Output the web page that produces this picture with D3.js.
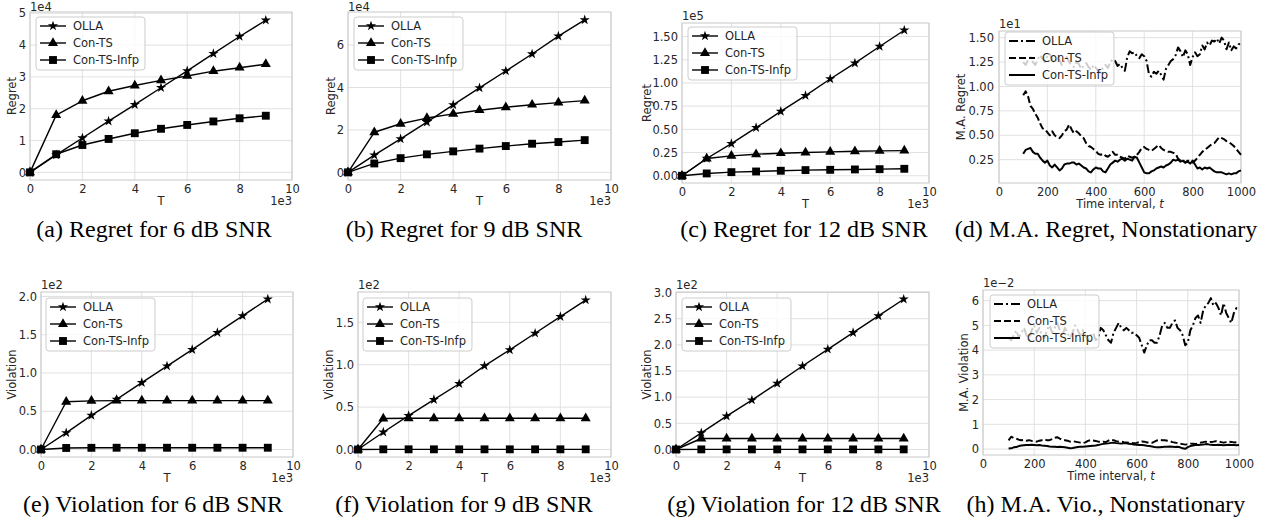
<!DOCTYPE html>
<html>
<head>
<meta charset="utf-8">
<script src="https://cdn.jsdelivr.net/npm/d3@7"></script>
<style>
  body { margin: 0; background: #fff; }
  svg { display: block; }
</style>
</head>
<body>
<div id="chart"></div>
<script>
// ---- data ----
const seriesNames = ["OLLA", "Con-TS", "Con-TS-Infp"];
const T = [0, 1, 2, 3, 4, 5, 6, 7, 8, 9]; // x 1e3

// regret (units shown on axis)
const regret6Olla = [0, 0.55, 1.08, 1.61, 2.13, 2.66, 3.19, 3.73, 4.27, 4.78];
const regret6ConTS = [0, 1.80, 2.25, 2.55, 2.73, 2.89, 3.03, 3.18, 3.29, 3.40];
const regret6Infp = [0, 0.57, 0.86, 1.05, 1.23, 1.37, 1.49, 1.60, 1.70, 1.78];

const regret9Olla = [0, 0.81, 1.58, 2.37, 3.18, 3.98, 4.78, 5.58, 6.42, 7.19];
const regret9ConTS = [0, 1.89, 2.29, 2.56, 2.76, 2.93, 3.07, 3.19, 3.29, 3.38];
const regret9Infp = [0, 0.42, 0.67, 0.85, 0.99, 1.12, 1.24, 1.35, 1.43, 1.52];

const regret12Olla = [0, 0.186, 0.346, 0.518, 0.693, 0.864, 1.043, 1.214, 1.393, 1.568];
const regret12ConTS = [0, 0.186, 0.214, 0.232, 0.243, 0.250, 0.257, 0.264, 0.268, 0.271];
const regret12Infp = [0, 0.025, 0.039, 0.046, 0.054, 0.061, 0.064, 0.068, 0.071, 0.075];

// violation
const viol6Olla = [0, 0.218, 0.445, 0.655, 0.873, 1.090, 1.305, 1.528, 1.747, 1.965];
const viol6ConTS = [0, 0.624, 0.636, 0.638, 0.638, 0.638, 0.638, 0.638, 0.638, 0.638];
const viol6Infp = [0, 0.020, 0.022, 0.023, 0.023, 0.023, 0.023, 0.023, 0.023, 0.023];

const viol9Olla = [0, 0.204, 0.400, 0.588, 0.776, 0.987, 1.175, 1.371, 1.567, 1.763];
const viol9ConTS = [0, 0.366, 0.368, 0.368, 0.368, 0.368, 0.368, 0.368, 0.368, 0.368];
const viol9Infp = [0, 0.002, 0.002, 0.002, 0.002, 0.002, 0.002, 0.002, 0.002, 0.002];

const viol12Olla = [0, 0.319, 0.638, 0.945, 1.264, 1.595, 1.915, 2.234, 2.553, 2.872];
const viol12ConTS = [0, 0.210, 0.210, 0.210, 0.210, 0.210, 0.210, 0.210, 0.210, 0.210];
const viol12Infp = [0, 0.002, 0.002, 0.002, 0.002, 0.002, 0.002, 0.002, 0.002, 0.002];

// moving averages, nonstationary
const maTime = [100, 110, 120, 130, 140, 150, 160, 170, 180, 190, 200, 210, 220, 230, 240, 250, 260, 270, 280, 290,
  300, 310, 320, 330, 340, 350, 360, 370, 380, 390, 400, 410, 420, 430, 440, 450, 460, 470, 480, 490,
  500, 510, 520, 530, 540, 550, 560, 570, 580, 590, 600, 610, 620, 630, 640, 650, 660, 670, 680, 690,
  700, 710, 720, 730, 740, 750, 760, 770, 780, 790, 800, 810, 820, 830, 840, 850, 860, 870, 880, 890,
  900, 910, 920, 930, 940, 950, 960, 970, 980, 990, 1000];

const maRegretOlla = [1.25, 1.22, 1.27, 1.30, 1.25, 1.22, 1.28, 1.32, 1.28, 1.25, 1.31, 1.33, 1.27, 1.24, 1.30, 1.27, 1.22, 1.26, 1.30, 1.25,
  1.22, 1.20, 1.25, 1.23, 1.18, 1.21, 1.24, 1.20, 1.17, 1.22, 1.19, 1.16, 1.14, 1.20, 1.22, 1.19, 1.25, 1.28, 1.26, 1.21,
  1.23, 1.19, 1.16, 1.30, 1.36, 1.34, 1.35, 1.31, 1.29, 1.33, 1.31, 1.26, 1.12, 1.10, 1.15, 1.13, 1.16, 1.12, 1.07, 1.18,
  1.22, 1.26, 1.28, 1.32, 1.40, 1.36, 1.30, 1.37, 1.33, 1.22, 1.30, 1.35, 1.31, 1.33, 1.42, 1.38, 1.45, 1.42, 1.47, 1.46,
  1.49, 1.44, 1.50, 1.47, 1.38, 1.45, 1.37, 1.41, 1.39, 1.43, 1.45];
const maRegretConTS = [0.91, 0.95, 0.90, 0.80, 0.77, 0.72, 0.68, 0.62, 0.57, 0.56, 0.53, 0.50, 0.54, 0.50, 0.48, 0.47, 0.50, 0.54, 0.56, 0.61,
  0.56, 0.52, 0.54, 0.52, 0.49, 0.47, 0.42, 0.39, 0.38, 0.36, 0.34, 0.31, 0.30, 0.31, 0.29, 0.28, 0.30, 0.33, 0.30, 0.30,
  0.28, 0.27, 0.26, 0.29, 0.28, 0.27, 0.28, 0.30, 0.33, 0.37, 0.38, 0.36, 0.35, 0.34, 0.36, 0.38, 0.40, 0.37, 0.35, 0.34,
  0.33, 0.33, 0.32, 0.31, 0.26, 0.24, 0.24, 0.22, 0.24, 0.23, 0.22, 0.24, 0.27, 0.30, 0.33, 0.35, 0.37, 0.39, 0.41, 0.42,
  0.45, 0.48, 0.47, 0.46, 0.44, 0.43, 0.41, 0.39, 0.36, 0.33, 0.30];
const maRegretInfp = [0.31, 0.35, 0.36, 0.37, 0.33, 0.31, 0.31, 0.27, 0.24, 0.22, 0.24, 0.19, 0.17, 0.20, 0.17, 0.14, 0.16, 0.20, 0.21, 0.21,
  0.22, 0.22, 0.20, 0.21, 0.19, 0.17, 0.16, 0.13, 0.12, 0.15, 0.17, 0.16, 0.16, 0.13, 0.12, 0.16, 0.20, 0.22, 0.24, 0.23,
  0.25, 0.26, 0.24, 0.26, 0.25, 0.24, 0.28, 0.27, 0.22, 0.17, 0.12, 0.11, 0.11, 0.13, 0.14, 0.16, 0.17, 0.18, 0.17, 0.19,
  0.20, 0.22, 0.25, 0.24, 0.25, 0.23, 0.24, 0.22, 0.23, 0.21, 0.24, 0.20, 0.16, 0.17, 0.15, 0.17, 0.16, 0.17, 0.15, 0.13,
  0.12, 0.12, 0.12, 0.11, 0.10, 0.11, 0.10, 0.11, 0.11, 0.13, 0.14];

const maViolOlla = [4.5, 4.4, 4.6, 4.8, 4.5, 4.7, 4.9, 4.6, 4.4, 4.8, 5.0, 4.7, 4.9, 4.6, 4.5, 4.8, 5.0, 4.7, 4.9, 5.1,
  4.8, 4.6, 4.9, 4.7, 4.5, 4.7, 5.0, 4.8, 4.6, 4.8, 4.6, 4.4, 4.6, 4.7, 4.4, 4.5, 4.9, 4.8, 4.6, 4.4,
  4.3, 4.7, 4.9, 5.1, 4.9, 4.8, 4.9, 4.8, 4.7, 4.7, 4.6, 4.5, 4.2, 3.9, 4.2, 4.4, 4.4, 4.3, 4.3, 4.6,
  5.0, 5.1, 4.9, 4.9, 5.1, 5.2, 4.9, 4.8, 4.6, 4.2, 4.3, 4.8, 5.0, 5.3, 5.4, 5.1, 5.6, 5.8, 5.9, 6.1,
  5.8, 5.9, 5.7, 5.4, 5.9, 5.5, 5.3, 5.1, 5.5, 5.7, 5.6];
const maViolConTS = [0.35, 0.50, 0.45, 0.42, 0.38, 0.36, 0.37, 0.34, 0.36, 0.33, 0.31, 0.30, 0.34, 0.36, 0.38, 0.36, 0.36, 0.40, 0.46, 0.48,
  0.42, 0.38, 0.36, 0.34, 0.30, 0.32, 0.30, 0.28, 0.26, 0.24, 0.27, 0.33, 0.36, 0.35, 0.33, 0.30, 0.29, 0.30, 0.28, 0.34,
  0.38, 0.36, 0.32, 0.30, 0.30, 0.28, 0.27, 0.26, 0.25, 0.24, 0.25, 0.28, 0.31, 0.30, 0.27, 0.26, 0.25, 0.30, 0.35, 0.37,
  0.36, 0.36, 0.34, 0.32, 0.28, 0.26, 0.24, 0.22, 0.20, 0.18, 0.20, 0.22, 0.21, 0.20, 0.23, 0.26, 0.28, 0.30, 0.27, 0.29,
  0.30, 0.32, 0.30, 0.28, 0.26, 0.28, 0.30, 0.29, 0.27, 0.28, 0.26];
const maViolInfp = [0.02, 0.03, 0.07, 0.08, 0.12, 0.14, 0.15, 0.16, 0.16, 0.17, 0.16, 0.15, 0.16, 0.14, 0.13, 0.12, 0.10, 0.09, 0.09, 0.08,
  0.09, 0.08, 0.07, 0.05, 0.03, 0.04, 0.06, 0.08, 0.09, 0.09, 0.10, 0.11, 0.12, 0.13, 0.14, 0.16, 0.19, 0.21, 0.22, 0.23,
  0.25, 0.26, 0.24, 0.23, 0.22, 0.23, 0.23, 0.21, 0.20, 0.18, 0.17, 0.16, 0.16, 0.15, 0.13, 0.12, 0.10, 0.08, 0.07, 0.07,
  0.08, 0.09, 0.09, 0.10, 0.09, 0.08, 0.09, 0.07, 0.03, 0.01, 0.08, 0.12, 0.14, 0.16, 0.16, 0.17, 0.18, 0.20, 0.19, 0.17,
  0.16, 0.16, 0.17, 0.16, 0.15, 0.16, 0.17, 0.16, 0.16, 0.15, 0.16];

// tick labels
const tTicks = [0, 2, 4, 6, 8, 10];
const maTicks = [0, 200, 400, 600, 800, 1000];

// ---- layout ----
const panels = [
  { left: 30, right: 292, top: 12, bottom: 180, xs: T, ys: [regret6Olla, regret6ConTS, regret6Infp], ma: false,
    xDomain: [0, 10], yDomain: [-0.24, 5.04], xTicks: tTicks, yTicks: [0, 1, 2, 3, 4, 5], yFmt: "d",
    ylabel: "Regret", ylabelX: 12, yOff: "1e4", yOffY: 11, legend: [36, 17], caption: "(a) Regret for 6 dB SNR", capX: 154, capY: 237 },
  { left: 348, right: 611, top: 12, bottom: 180, xs: T, ys: [regret9Olla, regret9ConTS, regret9Infp], ma: false,
    xDomain: [0, 10], yDomain: [-0.36, 7.56], xTicks: tTicks, yTicks: [0, 2, 4, 6], yFmt: "d",
    ylabel: "Regret", ylabelX: 331, yOff: "1e4", yOffY: 11, legend: [354, 17], caption: "(b) Regret for 9 dB SNR", capX: 464, capY: 237 },
  { left: 682, right: 929, top: 23, bottom: 183, xs: T, ys: [regret12Olla, regret12ConTS, regret12Infp], ma: false,
    xDomain: [0, 10], yDomain: [-0.078, 1.646], xTicks: tTicks, yTicks: [0, 0.25, 0.5, 0.75, 1, 1.25, 1.5], yFmt: ".2f",
    ylabel: "Regret", ylabelX: 647, yOff: "1e5", legend: [688, 27], caption: "(c) Regret for 12 dB SNR", capX: 804, capY: 237 },
  { left: 999, right: 1241, top: 31, bottom: 183, xs: maTime, ys: [maRegretOlla, maRegretConTS, maRegretInfp], ma: true,
    xDomain: [0, 1000], yDomain: [0.011, 1.568], xTicks: maTicks, yTicks: [0.25, 0.5, 0.75, 1, 1.25, 1.5], yFmt: ".2f", yPad: 5,
    ylabel: "M.A. Regret", ylabelX: 961, yOff: "1e1", legend: [1005, 32], caption: "(d) M.A. Regret, Nonstationary", capX: 1106, capY: 237 },
  { left: 41, right: 293, top: 292, bottom: 457, xs: T, ys: [viol6Olla, viol6ConTS, viol6Infp], ma: false,
    xDomain: [0, 10], yDomain: [-0.098, 2.058], xTicks: tTicks, yTicks: [0, 0.5, 1, 1.5, 2], yFmt: ".1f",
    ylabel: "Violation", ylabelX: 12, yOff: "1e2", legend: [46, 298], caption: "(e) Violation for 6 dB SNR", capX: 153, capY: 512 },
  { left: 358, right: 611, top: 292, bottom: 457, xs: T, ys: [viol9Olla, viol9ConTS, viol9Infp], ma: false,
    xDomain: [0, 10], yDomain: [-0.0885, 1.858], xTicks: tTicks, yTicks: [0, 0.5, 1, 1.5], yFmt: ".1f",
    ylabel: "Violation", ylabelX: 329, yOff: "1e2", legend: [363, 298], caption: "(f) Violation for 9 dB SNR", capX: 464, capY: 512 },
  { left: 676, right: 929, top: 292, bottom: 457, xs: T, ys: [viol12Olla, viol12ConTS, viol12Infp], ma: false,
    xDomain: [0, 10], yDomain: [-0.1435, 3.01], xTicks: tTicks, yTicks: [0, 0.5, 1, 1.5, 2, 2.5, 3], yFmt: ".1f",
    ylabel: "Violation", ylabelX: 647, yOff: "1e2", legend: [682, 298], caption: "(g) Violation for 12 dB SNR", capX: 804, capY: 512 },
  { left: 983, right: 1239, top: 290, bottom: 455, xs: maTime, ys: [maViolOlla, maViolConTS, maViolInfp], ma: true,
    xDomain: [0, 1000], yDomain: [-0.24, 6.43], xTicks: maTicks, yTicks: [0, 1, 2, 3, 4, 5, 6], yFmt: "d",
    ylabel: "M.A. Violation", ylabelX: 964, yOff: "1e\u22122", legend: [990, 295], caption: "(h) M.A. Vio., Nonstationary", capX: 1106, capY: 512 }
];

const FONT = "'DejaVu Sans', sans-serif";
const TXT = "#262626";
const symbols = [d3.symbolStar, d3.symbolTriangle, d3.symbolSquare];
const symSizes = [32, 44, 62];
const maDash = ["9,3,2,3", "7,3", null];

const svg = d3.select("#chart").append("svg")
  .attr("width", 1272)
  .attr("height", 527)
  .style("font-family", FONT);

function drawPanel(p) {
  const x = d3.scaleLinear().domain(p.xDomain).range([p.left, p.right]);
  const y = d3.scaleLinear().domain(p.yDomain).range([p.bottom, p.top]);
  const g = svg.append("g");

  // grid
  g.selectAll(".gx").data(p.xTicks).enter().append("line")
    .attr("x1", d => x(d)).attr("x2", d => x(d))
    .attr("y1", p.top).attr("y2", p.bottom)
    .attr("stroke", "#dedede").attr("stroke-width", 0.9);
  g.selectAll(".gy").data(p.yTicks).enter().append("line")
    .attr("x1", p.left).attr("x2", p.right)
    .attr("y1", d => y(d)).attr("y2", d => y(d))
    .attr("stroke", "#dedede").attr("stroke-width", 0.9);

  // frame
  g.append("rect")
    .attr("x", p.left).attr("y", p.top)
    .attr("width", p.right - p.left).attr("height", p.bottom - p.top)
    .attr("fill", "none").attr("stroke", "#c8c8c8").attr("stroke-width", 1);

  // tick labels
  const xa = g.append("g").attr("transform", `translate(0,${p.bottom})`)
    .call(d3.axisBottom(x).tickValues(p.xTicks).tickSize(0).tickPadding(5).tickFormat(d3.format("d")));
  const ya = g.append("g").attr("transform", `translate(${p.left},0)`)
    .call(d3.axisLeft(y).tickValues(p.yTicks).tickSize(0).tickPadding(p.yPad || 4).tickFormat(d3.format(p.yFmt)));
  [xa, ya].forEach(a => {
    a.select(".domain").remove();
    a.attr("font-size", 11.5).attr("font-family", FONT);
    a.selectAll("text").attr("fill", TXT);
  });

  // axis labels
  const midX = (p.left + p.right) / 2;
  if (p.ma) {
    const xl = g.append("text").attr("x", midX).attr("y", p.bottom + 25)
      .attr("text-anchor", "middle").attr("font-size", 11.5).attr("fill", TXT);
    xl.append("tspan").text("Time interval, ");
    xl.append("tspan").attr("font-style", "italic").text("t");
  } else {
    g.append("text").attr("x", midX).attr("y", p.bottom + 25)
      .attr("text-anchor", "middle").attr("font-size", 11.5).attr("fill", TXT).text("T");
    g.append("text").attr("x", p.right).attr("y", p.bottom + 25)
      .attr("text-anchor", "end").attr("font-size", 11.5).attr("fill", TXT).text("1e3");
  }
  g.append("text").attr("x", p.left).attr("y", p.yOffY || p.top - 3)
    .attr("font-size", 11.5).attr("fill", TXT).text(p.yOff);
  g.append("text")
    .attr("transform", `translate(${p.ylabelX},${(p.top + p.bottom) / 2}) rotate(-90)`)
    .attr("text-anchor", "middle").attr("dy", "0.35em")
    .attr("font-size", 11.5).attr("fill", TXT).text(p.ylabel);

  // series
  p.ys.forEach((vals, i) => {
    const pts = vals.map((v, k) => [p.xs[k], v]);
    const line = d3.line().x(d => x(d[0])).y(d => y(d[1]));
    g.append("path").datum(pts)
      .attr("d", line)
      .attr("fill", "none")
      .attr("stroke", "#000")
      .attr("stroke-width", p.ma ? 2 : 1.4)
      .attr("stroke-linejoin", "round")
      .attr("stroke-dasharray", p.ma ? maDash[i] : null);
    if (!p.ma) {
      g.selectAll(null).data(pts).enter().append("path")
        .attr("transform", d => `translate(${x(d[0])},${y(d[1])})`)
        .attr("d", d3.symbol().type(symbols[i]).size(symSizes[i]))
        .attr("fill", "#000");
    }
  });

  // legend
  const lg = g.append("g").attr("transform", `translate(${p.legend[0]},${p.legend[1]})`);
  const box = lg.append("rect")
    .attr("rx", 3).attr("fill", "#fff").attr("fill-opacity", 0.8)
    .attr("stroke", "#cccccc").attr("stroke-width", 1);
  let maxW = 0;
  seriesNames.forEach((name, i) => {
    const ry = 9 + i * 17;
    lg.append("line").attr("x1", 4).attr("x2", 30).attr("y1", ry).attr("y2", ry)
      .attr("stroke", "#000").attr("stroke-width", p.ma ? 2 : 1.4)
      .attr("stroke-dasharray", p.ma ? maDash[i] : null);
    if (!p.ma) {
      lg.append("path").attr("transform", `translate(17,${ry})`)
        .attr("d", d3.symbol().type(symbols[i]).size(symSizes[i])).attr("fill", "#000");
    }
    const t = lg.append("text").attr("x", 37).attr("y", ry).attr("dy", "0.35em")
      .attr("font-size", 11.5).attr("fill", TXT).text(name);
    maxW = Math.max(maxW, t.node().getComputedTextLength());
  });
  box.attr("x", 0).attr("y", 0).attr("width", 37 + maxW + 6).attr("height", 53);

  // caption
  svg.append("text").attr("x", p.capX).attr("y", p.capY)
    .attr("text-anchor", "middle")
    .attr("font-family", "'Liberation Serif', 'Times New Roman', serif")
    .attr("font-size", 24).attr("fill", "#000").text(p.caption);
}

panels.forEach(drawPanel);
</script>
</body>
</html>
